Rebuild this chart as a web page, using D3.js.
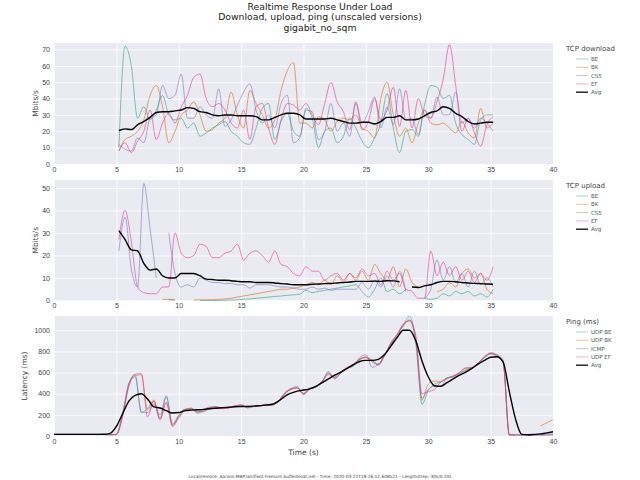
<!DOCTYPE html>
<html>
<head>
<meta charset="utf-8">
<script src="https://cdn.jsdelivr.net/npm/d3@7"></script>
<style>
  body { margin: 0; background: #fff; }
  svg { font-family: "DejaVu Sans", sans-serif; }
  .tick text { fill: #444; font-size: 7px; }
  .tick line { stroke: #fff; stroke-width: 0.8; }
  .domain { display: none; }
</style>
</head>
<body>
<svg id="chart" width="640" height="480"></svg>
<script>
// time grid for the TCP panels (s) and the ping panel (s)
const tcpTimes = d3.range(5.2, 35.3, 0.5)
const pingTimes = d3.range(0, 40.01, 0.5)

// TCP download, Mbits/s
const dlBE = [10,72,60,28,35,27,33,42,30,27,28,22,25,17,19,22,24,26,20,17,13,12,22,34,37,15,26,31,20,17,34,28,10,20,22,13,17,28,22,14,10,16,25,43,22,7,20,21,17,36,48,47,40,42,25,18,15,12,27,30,30]
const dlBK = [8,15,17,20,27,42,48,35,13,20,30,33,38,30,20,21,25,28,44,30,22,45,37,30,22,27,45,57,62,25,25,22,29,27,20,26,28,27,30,22,20,16,40,50,30,17,22,13,25,33,25,24,25,22,19,26,19,16,34,22,25]
const dlCS5 = [12,9,8,16,13,28,30,48,40,42,55,28,28,35,30,28,46,23,27,36,44,49,33,25,30,22,37,42,13,16,33,32,15,20,37,20,25,17,37,25,32,41,22,35,24,46,27,28,18,33,28,41,30,30,44,25,28,22,28,25,20]
const dlEF = [8,13,7,14,20,33,15,25,31,25,35,42,53,55,40,35,37,33,25,22,33,15,35,37,22,12,27,37,36,33,37,30,24,37,50,38,32,21,38,21,26,40,27,33,47,23,45,22,40,30,28,38,52,73,48,20,28,19,11,24,29]
const dlAvg = [20.5,21.5,21,24,26,28.5,31.5,32,32,32.5,33,34.5,34,32,31.5,30,29.5,30,30,29.5,29.5,29.5,29,27,27,28.5,30,31,31,30,27.5,27.5,27.5,27.5,28,27,26,25,25,25.5,25.5,24.5,26,28.5,28.5,29.5,27,27,27.5,29.5,31.5,32.5,35,34,31,29,26,24.5,25,25.5,25.5]

// TCP upload, Mbits/s (null = no sample)
const ulBE = [null,null,null,null,null,null,null,null,0.3,0.2,null,null,null,0,0,0,0,0.1,0.2,0.3,0.5,0.7,1,1.2,1.5,1.8,2,2.3,2.5,2.8,4.5,3.5,4,4.5,5,5.5,6,6.5,7,4,1.5,5,10,4,5,3,5,null,null,1,0.5,1,3,2,4,3,4,2,3,1.5,5]
const ulBK = [null,null,null,null,null,null,null,0.5,0.5,0.3,null,null,0.2,0.3,0.3,0.4,0.5,0.7,1,1.5,2,2.5,3,3.5,4,4.5,5,5,5.5,6,7,8,7,9,7,11,8,12,9,13,9,16,12,9,15,6,14,8,6,null,null,4,5,8,6,12,14,10,12,5,3]
const ulCS5 = [22,37,14,6,52,32,10,null,30,12,6,7,6,10,9,8,8,7.5,7.5,7,7,5.5,7,7,7,6.5,6,6,5.5,5,5,6,5,5.5,4.5,5,5,5,5,8,5,9,6,11,6,13,4,null,null,1,5,18,9,15,8,12,6,13,7,10,6]
const ulEF = [27,40,26,6,3.5,3,3,6,6,30,21,19,20,25,24,19,19,21,22,25,18,21,22,20,17,22,16,15,12,11,15,13,13,9,11,12,9,12,10,14,11,12,7,13,9,12,5,4,1,1,22,11,17,11,15,9,13,8,12,9,15]
const ulAvg = [31,27,22.5,22,16.5,13.5,14,11,10,10,12,12,12,11,9.5,9.3,9,9,8.8,8.5,8.3,8.3,8,8,8,7.8,7.5,7.3,7,7,7,7.2,7.3,7.5,7.6,7.8,8,8.2,8.5,8.5,8.5,8.6,8.5,8.8,8.7,8.3,null,6,5.8,6.5,7,8,8.5,8.5,8.3,8,7.8,7.6,7.5,7.3,7.2]

// ping, ms
const pingBE = [15,15,15,15,15,15,15,15,14,12,15,220,490,580,220,260,330,170,370,110,200,250,255,225,240,270,272,262,268,280,292,268,280,283,298,295,330,405,440,455,400,455,462,520,600,545,595,640,665,725,748,700,675,770,870,955,1040,1100,880,300,430,490,510,550,565,595,625,645,690,740,775,760,705,10,10,10,10,10,10,10,12]
const pingBK = [15,15,15,15,15,15,15,15,14,12,15,200,470,570,580,250,340,160,310,100,190,255,260,215,235,265,280,258,265,285,295,265,278,285,300,292,325,400,440,455,395,450,465,510,590,550,600,650,670,720,740,710,680,760,880,960,1050,1090,930,340,490,520,515,550,560,600,640,640,690,745,780,755,700,10,10,null,null,null,95,125,155]
const pingICMP = [15,15,15,15,15,15,15,15,14,12,15,200,500,560,230,220,300,200,380,110,180,240,250,240,230,265,275,260,270,280,290,270,280,285,295,300,330,410,450,470,390,440,470,510,610,540,600,640,660,740,770,650,680,760,860,950,1050,1130,900,360,440,470,470,545,560,590,620,640,690,745,790,770,720,10,10,10,10,10,15,22,30]
const pingEF = [15,15,15,15,15,15,15,15,14,12,12,180,480,585,590,180,330,150,320,90,170,245,265,230,250,275,270,260,265,285,290,275,280,285,300,295,335,400,445,455,405,450,470,520,580,560,610,645,680,730,745,720,670,760,880,960,1060,1090,950,400,420,440,510,540,570,600,645,650,690,750,780,765,690,10,10,10,10,10,10,10,12]
const pingAvg = [15,15,15,15,15,15,15,15,16,25,90,210,330,385,400,350,275,265,240,218,222,240,245,248,252,258,263,268,272,276,278,280,283,287,292,300,330,375,405,425,435,445,470,505,540,575,605,640,675,705,715,715,725,770,850,930,1000,1000,900,710,560,475,470,505,540,575,605,640,680,715,745,750,700,420,160,15,12,15,20,30,40]

const tcpNames = ["BE", "BK", "CS5", "EF", "Avg"]
const pingNames = ["UDP BE", "UDP BK", "ICMP", "UDP EF", "Avg"]
const colors = ["#1b9e77", "#d95f02", "#7570b3", "#e7298a", "#000000"]
const xTicks = [0, 5, 10, 15, 20, 25, 30, 35, 40]

const svg = d3.select("#chart")
const left = 54, right = 553

const x = d3.scaleLinear().domain([0, 40]).range([left, right])

const titles = ["Realtime Response Under Load", "Download, upload, ping (unscaled versions)", "gigabit_no_sqm"]
titles.forEach(function(t, i){
    svg.append("text")
        .attr("x", 320).attr("y", 9.5 + i * 10.5)
        .attr("text-anchor", "middle")
        .attr("font-size", 9.3).attr("fill", "#222")
        .text(t)
})

function drawPanel(opt){
    const y = d3.scaleLinear().domain([0, opt.ymax]).range([opt.bottom, opt.top])
    const g = svg.append("g")

    g.append("rect")
        .attr("x", left).attr("y", opt.top)
        .attr("width", right - left).attr("height", opt.bottom - opt.top)
        .attr("fill", "#eaeaf2")

    g.append("g")
        .attr("transform", "translate(" + left + ",0)")
        .call(d3.axisLeft(y).tickValues(opt.yTicks).tickFormat(d3.format("d"))
            .tickSize(-(right - left)).tickPadding(4))

    g.append("g")
        .attr("transform", "translate(0," + opt.bottom + ")")
        .call(d3.axisBottom(x).tickValues(xTicks).tickSize(-(opt.bottom - opt.top)).tickPadding(3))

    g.append("text")
        .attr("transform", "translate(" + opt.labelX + "," + ((opt.top + opt.bottom) / 2) + ") rotate(-90)")
        .attr("text-anchor", "middle")
        .attr("font-size", 7.5).attr("fill", "#444")
        .text(opt.ylabel)

    const line = d3.line()
        .defined(d => d[1] != null)
        .curve(d3.curveMonotoneX)
        .x(d => x(d[0]))
        .y(d => y(d[1]))

    opt.series.forEach(function(s, i){
        const pts = opt.times.map((t, j) => [t, s[j]])
        g.append("path")
            .attr("d", line(pts))
            .attr("fill", "none")
            .attr("stroke", colors[i])
            .attr("stroke-width", i == 4 ? 1.4 : 0.7)
            .attr("stroke-opacity", i == 4 ? 1 : 0.8)
            .attr("stroke-linejoin", "round")
    })

    // legend
    const lg = svg.append("g")
    lg.append("text")
        .attr("x", opt.legX).attr("y", opt.top + 8)
        .attr("font-size", 7).attr("fill", "#444")
        .text(opt.legTitle)
    opt.names.forEach(function(n, i){
        const yy = opt.top + 16 + i * 8.3
        lg.append("line")
            .attr("x1", opt.legX + 10).attr("x2", opt.legX + 22)
            .attr("y1", yy).attr("y2", yy)
            .attr("stroke", colors[i])
            .attr("stroke-width", i == 4 ? 1.4 : 0.8)
            .attr("stroke-opacity", i == 4 ? 0.9 : 0.5)
        lg.append("text")
            .attr("x", opt.legX + 25).attr("y", yy + 2)
            .attr("font-size", 5.5).attr("fill", "#555")
            .text(n)
    })
}

drawPanel({
    top: 43, bottom: 164, ymax: 74, yTicks: [0,10,20,30,40,50,60,70],
    times: tcpTimes, series: [dlBE, dlBK, dlCS5, dlEF, dlAvg],
    names: tcpNames, legTitle: "TCP download", legX: 566,
    ylabel: "Mbits/s", labelX: 38
})

drawPanel({
    top: 180, bottom: 300.5, ymax: 53.5, yTicks: [0,10,20,30,40,50],
    times: tcpTimes, series: [ulBE, ulBK, ulCS5, ulEF, ulAvg],
    names: tcpNames, legTitle: "TCP upload", legX: 566,
    ylabel: "Mbits/s", labelX: 38
})

drawPanel({
    top: 316, bottom: 436, ymax: 1135, yTicks: [0,200,400,600,800,1000],
    times: pingTimes, series: [pingBE, pingBK, pingICMP, pingEF, pingAvg],
    names: pingNames, legTitle: "Ping (ms)", legX: 566,
    ylabel: "Latency (ms)", labelX: 27
})

svg.append("text")
    .attr("x", (left + right) / 2).attr("y", 455)
    .attr("text-anchor", "middle")
    .attr("font-size", 7.5).attr("fill", "#444")
    .text("Time (s)")

svg.append("text")
    .attr("x", 320).attr("y", 478)
    .attr("text-anchor", "middle")
    .attr("font-size", 4.3).attr("fill", "#444")
    .text("Local/remote: Aarons-MBP.lan/flent-fremont.bufferbloat.net - Time: 2020-03-22T18:26:12.608521 - Length/step: 30s/0.20s")
</script>
</body>
</html>
